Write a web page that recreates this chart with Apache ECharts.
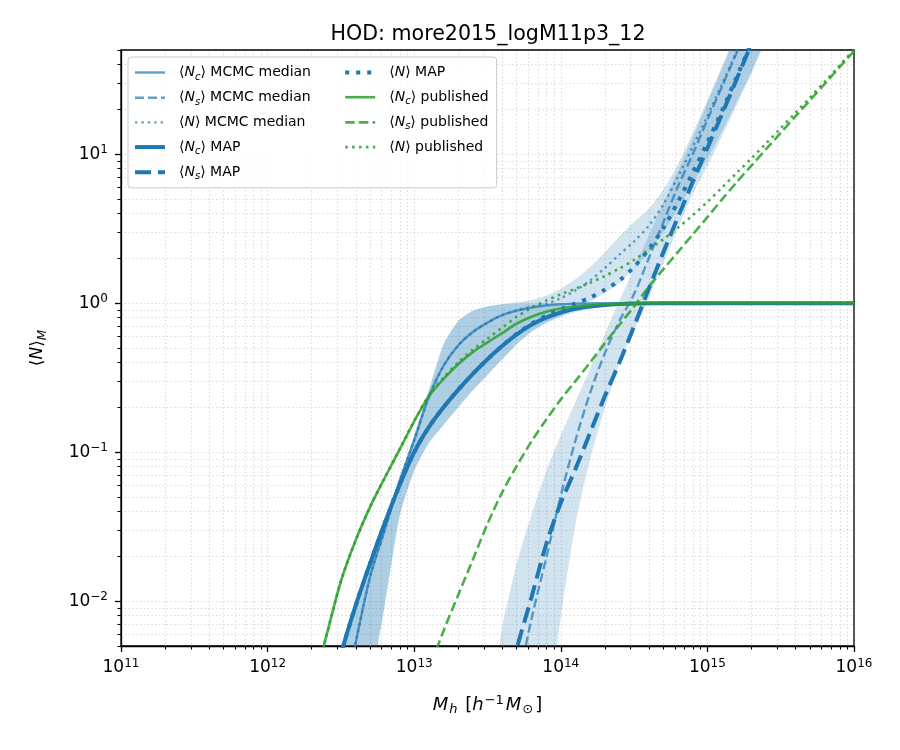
<!DOCTYPE html>
<html>
<head>
<meta charset="utf-8">
<title>HOD: more2015_logM11p3_12</title>
<script src="https://cdn.jsdelivr.net/npm/echarts@6/dist/echarts.min.js"></script>
</head>
<body style="margin:0">
<div id="container" style="width:900px;height:750px"></div>
<script>
// halo mass grid, log10(M / h^-1 Msun)
var logMass = [12.2, 12.3, 12.4, 12.5, 12.6, 12.7, 12.8, 12.9, 13.0, 13.1,
               13.2, 13.3, 13.4, 13.5, 13.6, 13.7, 13.8, 13.9, 14.0, 14.1,
               14.2, 14.3, 14.4, 14.5, 14.6, 14.7, 14.8, 14.9, 15.0, 15.1,
               15.2, 15.3, 15.4, 15.5, 15.6, 15.7, 15.8, 15.9, 16.0];

// MCMC median
var ncMedian = [null, null, 0.0005, 0.0017, 0.0052, 0.0147, 0.0303, 0.0638, 0.12, 0.235,
                0.38, 0.52, 0.64, 0.74, 0.83, 0.89, 0.935, 0.965, 0.983, 0.992,
                0.997, 1, 1, 1, 1, 1, 1, 1, 1, 1, 1, 1, 1, 1, 1, 1, 1, 1, 1];
var nsMedian = [null, null, null, null, null, null, null, null, null, null,
                null, null, null, null, 0.0007, 0.0025, 0.0076, 0.0194, 0.051, 0.12,
                0.25, 0.46, 0.76, 1.15, 2.0, 3.5, 6.1, 10.0, 17, 28.5,
                48, 80, null, null, null, null, null, null, null];
var nMedian = [null, null, 0.0005, 0.0017, 0.0052, 0.0147, 0.0303, 0.0638, 0.12, 0.235,
               0.38, 0.52, 0.64, 0.74, 0.83, 0.895, 0.945, 0.99, 1.08, 1.22,
               1.42, 1.72, 2.12, 2.6, 3.3, 4.6, 7.1, 11.2, 18, 29.5,
               49, 81, null, null, null, null, null, null, null];

// MAP
var ncMap = [null, null, 0.0018, 0.0044, 0.0093, 0.018, 0.0336, 0.060, 0.100, 0.147,
             0.200, 0.262, 0.335, 0.42, 0.515, 0.617, 0.715, 0.80, 0.865, 0.918,
             0.95, 0.972, 0.985, 0.993, 0.997, 1, 1, 1, 1, 1, 1, 1, 1, 1, 1, 1, 1, 1, 1];
var nsMap = [null, null, null, null, null, null, null, null, null, null,
             null, null, null, null, 0.0018, 0.0048, 0.0106, 0.024, 0.0457, 0.077,
             0.135, 0.237, 0.40, 0.70, 1.25, 2.2, 3.8, 6.5, 11.0, 18.6,
             31.9, 55, 95, null, null, null, null, null, null];
var nMap = [null, null, 0.0018, 0.0044, 0.0093, 0.018, 0.0336, 0.060, 0.100, 0.147,
            0.200, 0.262, 0.335, 0.42, 0.517, 0.622, 0.726, 0.824, 0.91, 0.995,
            1.09, 1.23, 1.42, 1.75, 2.3, 3.2, 4.8, 7.5, 12.0, 19.6,
            33, 56, 96, null, null, null, null, null, null];

// published
var ncPub = [0.0014, 0.0025, 0.0058, 0.0136, 0.0255, 0.0431, 0.0676, 0.104, 0.161, 0.237,
             0.310, 0.389, 0.469, 0.545, 0.63, 0.73, 0.81, 0.875, 0.92, 0.95,
             0.97, 0.982, 0.99, 0.995, 0.998, 1, 1, 1, 1, 1, 1, 1, 1, 1, 1, 1, 1, 1, 1];
var nsPub = [null, null, null, null, null, null, null, null, 0.0014, 0.0034,
             0.0063, 0.011, 0.019, 0.033, 0.0537, 0.081, 0.118, 0.165, 0.226, 0.30,
             0.40, 0.537, 0.716, 0.95, 1.29, 1.69, 2.21, 2.89, 3.78, 4.97,
             6.49, 8.36, 10.8, 13.9, 17.9, 23.0, 29.6, 38.2, 49.2];
var nPub = [0.0014, 0.0025, 0.0058, 0.0136, 0.0255, 0.0431, 0.0676, 0.104, 0.162, 0.240,
            0.316, 0.40, 0.488, 0.578, 0.684, 0.811, 0.928, 1.04, 1.146, 1.25,
            1.37, 1.52, 1.71, 1.95, 2.29, 2.69, 3.21, 3.89, 4.78, 5.97,
            7.49, 9.36, 11.8, 14.9, 18.9, 24.0, 30.6, 39.2, 50.2];

// MCMC credible bands
var ncLow = [null, null, 0.0003, 0.0006, 0.0013, 0.0028, 0.0095, 0.037, 0.075, 0.115,
             0.152, 0.20, 0.26, 0.33, 0.42, 0.53, 0.64, 0.735, 0.81, 0.87,
             0.915, 0.948, 0.97, 0.984, 0.992, 0.997, 1, 1, 1, 1, 1, 1, 1, 1, 1, 1, 1, 1, 1];
var ncHigh = [null, null, 0.0019, 0.0046, 0.0098, 0.0195, 0.034, 0.066, 0.13, 0.26,
              0.53, 0.76, 0.89, 0.95, 0.98, 0.993, 0.998, 1, 1, 1,
              1, 1, 1, 1, 1, 1, 1, 1, 1, 1, 1, 1, 1, 1, 1, 1, 1, 1, 1];
var nsLow = [null, null, null, null, null, null, null, null, null, null,
             null, null, 0.00001, 0.00002, 0.00005, 0.0001, 0.0003, 0.0015, 0.0079, 0.0327,
             0.090, 0.195, 0.397, 0.652, 1.08, 1.86, 3.2, 5.4, 8.3, 13.2,
             21.4, 34.7, 59, 100, null, null, null, null, null];
var nsHigh = [null, null, null, null, null, null, null, null, null, null,
              null, null, 0.0004, 0.0015, 0.0066, 0.018, 0.038, 0.074, 0.13, 0.217,
              0.361, 0.617, 1.04, 1.71, 2.84, 4.7, 7.76, 12.9, 22.1, 37.8,
              65, 110, 187, 320, null, null, null, null, null];
var nLow = [null, null, 0.0003, 0.0006, 0.0013, 0.0028, 0.0095, 0.037, 0.075, 0.115,
            0.152, 0.20, 0.26, 0.33, 0.42, 0.53, 0.645, 0.74, 0.82, 0.91,
            1.02, 1.17, 1.36, 1.7, 2.2, 3.0, 4.3, 6.4, 9.3, 14.2,
            22.4, 35.7, 60, 101, null, null, null, null, null];
var nHigh = [null, null, 0.0019, 0.0046, 0.0098, 0.0195, 0.034, 0.066, 0.13, 0.26,
             0.53, 0.76, 0.89, 0.95, 0.985, 1.01, 1.05, 1.12, 1.25, 1.45,
             1.75, 2.2, 2.8, 3.5, 4.3, 5.8, 8.6, 13.8, 23, 38.8,
             66, 111, 188, 320, null, null, null, null, null];

// axis ticks
var xMajor = [1e11, 1e12, 1e13, 1e14, 1e15, 1e16];
var yMajor = [0.01, 0.1, 1, 10];
var xMinor = [];
var yMinor = [];
xMajor.slice(0, -1).forEach(function (d) {
    for (var m = 2; m <= 9; m++) xMinor.push(m * d);
});
[0.001, 0.01, 0.1, 1, 10].forEach(function (d) {
    for (var m = 2; m <= 9; m++) {
        var v = m * d;
        if (v >= 0.005 && v <= 50) yMinor.push(v);
    }
});

var FONT = 'DejaVu Sans';
var BLUE = '#1f77b4';
var BLUE_MED = 'rgba(31,119,180,0.7)';
var GREEN = 'rgba(44,160,44,0.85)';
var GRID_LINE = {color: '#d9d9d9', width: 1.2, type: [1.4, 2.4]};

function points(vals) {
    var out = [];
    for (var i = 0; i < logMass.length; i++) {
        if (vals[i] != null) out.push([Math.pow(10, logMass[i]), vals[i]]);
    }
    return out;
}

function lineSeries(name, vals, color, width, dash) {
    return {
        type: 'line',
        name: name,
        data: points(vals),
        xAxisIndex: 0,
        yAxisIndex: 0,
        showSymbol: false,
        symbol: 'none',
        smooth: 0.3,
        clip: true,
        z: 3,
        lineStyle: {color: color, width: width, type: dash, cap: 'butt'},
        itemStyle: {color: color},
        emphasis: {disabled: true}
    };
}

function bandSeries(name, low, high) {
    return {
        type: 'custom',
        name: name,
        xAxisIndex: 0,
        yAxisIndex: 0,
        silent: true,
        z: 1,
        data: [[1e13, 1]],
        renderItem: function (params, api) {
            if (params.dataIndex !== 0) return;
            var top = [], bottom = [];
            for (var i = 0; i < logMass.length; i++) {
                if (low[i] == null || high[i] == null) continue;
                var x = Math.pow(10, logMass[i]);
                top.push(api.coord([x, high[i]]));
                bottom.unshift(api.coord([x, low[i]]));
            }
            var cs = params.coordSys;
            return {
                type: 'polygon',
                shape: {points: top.concat(bottom), smooth: 0.2},
                style: {fill: BLUE, opacity: 0.2},
                clipPath: {type: 'rect', shape: {x: cs.x, y: cs.y, width: cs.width, height: cs.height}}
            };
        }
    };
}

function powLabel(v) {
    var e = Math.log10(v);
    var r = Math.round(e);
    if (Math.abs(e - r) > 1e-6) return '';
    return '{b|10}{s|' + String(r).replace('-', '\u2212') + '}';
}
var powRich = {
    b: {fontFamily: FONT, fontSize: 17, lineHeight: 22, color: '#000'},
    s: {fontFamily: FONT, fontSize: 12, lineHeight: 22, padding: [0, 0, 9, 0], color: '#000'}
};

var legendNames = ['Nc MCMC median', 'Ns MCMC median', 'N MCMC median', 'Nc MAP', 'Ns MAP',
                   'N MAP', 'Nc published', 'Ns published', 'N published'];

function legendLabel(name) {
    var parts = name.split(' ');
    var head = parts.shift();
    var sym = '\u27e8{i|N}' + (head.length > 1 ? '{sub|' + head.charAt(1) + '}' : '') + '\u27e9';
    return sym + ' ' + parts.join(' ');
}

var chart = echarts.init(document.getElementById('container'));

var option = {
    backgroundColor: '#fff',
    animation: false,
    title: {
        text: 'HOD: more2015_logM11p3_12',
        left: 483,
        top: 19,
        textAlign: 'center',
        textStyle: {fontFamily: FONT, fontSize: 20.6, fontWeight: 'normal', color: '#000'}
    },
    legend: {
        orient: 'vertical',
        left: 128,
        top: 57,
        height: 130,
        itemWidth: 30,
        itemHeight: 14,
        itemGap: 6.2,
        padding: [6, 8, 6, 5],
        backgroundColor: 'rgba(255,255,255,0.8)',
        borderColor: '#cccccc',
        borderWidth: 1,
        borderRadius: 3,
        selectedMode: false,
        lineStyle: {width: 'inherit'},
        itemStyle: {opacity: 0},
        data: legendNames.map(function (n, i) {
            var item = {name: n};
            if (i < 5) item.textStyle = {width: 158};
            return item;
        }),
        formatter: legendLabel,
        textStyle: {
            fontFamily: FONT, fontSize: 14, lineHeight: 18, color: '#000',
            padding: [0, 0, 0, 9],
            rich: {
                i: {fontFamily: FONT, fontSize: 14, fontStyle: 'italic', lineHeight: 18, color: '#000'},
                sub: {fontFamily: FONT, fontSize: 10, fontStyle: 'italic', lineHeight: 18, padding: [9, 0, 0, 0], color: '#000'}
            }
        }
    },
    grid: [
        {left: 121, right: 46, top: 50, bottom: 104, show: true, z: 1, borderColor: '#000', borderWidth: 1.3, backgroundColor: 'transparent'},
        {left: 121, right: 46, top: 50, bottom: 104, show: false}
    ],
    xAxis: [{
        type: 'log', logBase: 10, gridIndex: 0, min: 1e11, max: 1e16,
        position: 'bottom',
        axisLine: {show: true, lineStyle: {color: '#000', width: 1.3}},
        axisTick: {show: true, length: 6, customValues: xMajor, lineStyle: {color: '#000', width: 1.3}},
        axisLabel: {customValues: xMajor, formatter: powLabel, rich: powRich, margin: 11, color: '#000'},
        splitLine: {show: true, lineStyle: GRID_LINE},
        name: '{i|M}{sub|h} [{i|h}{sup|\u22121}{i|M}{sub|\u2299}]',
        nameLocation: 'middle',
        nameGap: 48,
        nameTextStyle: {
            fontFamily: FONT, fontSize: 18, lineHeight: 22, color: '#000',
            rich: {
                i: {fontFamily: FONT, fontSize: 18, fontStyle: 'italic', lineHeight: 22, color: '#000'},
                sub: {fontFamily: FONT, fontSize: 13, fontStyle: 'italic', lineHeight: 22, padding: [10, 2, 0, 1], color: '#000'},
                sup: {fontFamily: FONT, fontSize: 13, lineHeight: 22, padding: [0, 2, 9, 1], color: '#000'}
            }
        }
    }, {
        type: 'log', logBase: 10, gridIndex: 1, min: 1e11, max: 1e16,
        position: 'bottom',
        axisLine: {show: false},
        axisTick: {show: true, length: 3.5, customValues: xMinor, lineStyle: {color: '#000', width: 1.1}},
        axisLabel: {show: false},
        splitLine: {show: true, lineStyle: GRID_LINE}
    }],
    yAxis: [{
        type: 'log', logBase: 10, gridIndex: 0, min: 0.005, max: 50,
        position: 'left',
        axisLine: {show: true, lineStyle: {color: '#000', width: 1.3}},
        axisTick: {show: true, length: 6, customValues: yMajor, lineStyle: {color: '#000', width: 1.3}},
        axisLabel: {customValues: yMajor, formatter: powLabel, rich: powRich, margin: 13, color: '#000'},
        splitLine: {show: true, lineStyle: GRID_LINE},
        name: '\u27e8{i|N}\u27e9{sub|M}',
        nameLocation: 'middle',
        nameRotate: 90,
        nameGap: 72,
        nameTextStyle: {
            fontFamily: FONT, fontSize: 17, lineHeight: 22, color: '#000',
            rich: {
                i: {fontFamily: FONT, fontSize: 17, fontStyle: 'italic', lineHeight: 22, color: '#000'},
                sub: {fontFamily: FONT, fontSize: 12, fontStyle: 'italic', lineHeight: 22, padding: [10, 0, 0, 0], color: '#000'}
            }
        }
    }, {
        type: 'log', logBase: 10, gridIndex: 1, min: 0.005, max: 50,
        position: 'left',
        axisLine: {show: false},
        axisTick: {show: true, length: 3.5, customValues: yMinor, lineStyle: {color: '#000', width: 1.1}},
        axisLabel: {show: false},
        splitLine: {show: true, lineStyle: GRID_LINE}
    }],
    series: [
        bandSeries('band Nc', ncLow, ncHigh),
        bandSeries('band Ns', nsLow, nsHigh),
        bandSeries('band N', nLow, nHigh),
        lineSeries('Nc MCMC median', ncMedian, BLUE_MED, 2.4, 'solid'),
        lineSeries('Ns MCMC median', nsMedian, BLUE_MED, 2.4, [9, 4]),
        lineSeries('N MCMC median', nMedian, BLUE_MED, 2.4, [2.4, 4]),
        lineSeries('Nc MAP', ncMap, BLUE, 4, 'solid'),
        lineSeries('Ns MAP', nsMap, BLUE, 4, [16, 7]),
        lineSeries('N MAP', nMap, BLUE, 4, [4, 7]),
        lineSeries('Nc published', ncPub, GREEN, 2.6, 'solid'),
        lineSeries('Ns published', nsPub, GREEN, 2.6, [9.5, 4.2]),
        lineSeries('N published', nPub, GREEN, 2.6, [2.6, 4.3])
    ]
};

chart.setOption(option);
window.onresize = function () {
    chart.resize();
};
</script>
</body>
</html>
